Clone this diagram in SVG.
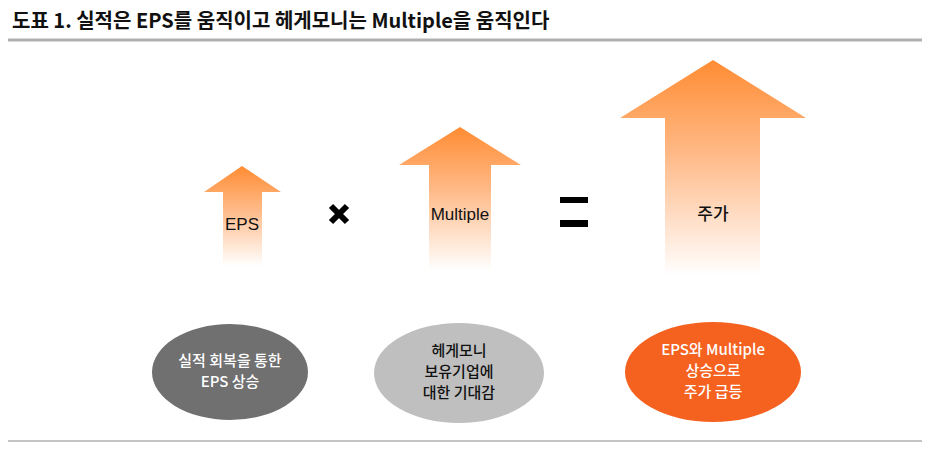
<svg xmlns="http://www.w3.org/2000/svg" width="933" height="449" viewBox="0 0 933 449">
<defs>
<linearGradient id="g" x1="0" y1="0" x2="0" y2="1">
<stop offset="0" stop-color="#ff8c33"/><stop offset="0.45" stop-color="#ffbb8a"/><stop offset="1" stop-color="#ffffff"/>
</linearGradient>
<style>
.t{font-family:"Noto Sans CJK KR","Liberation Sans",sans-serif;font-weight:bold;}
.lbl{font-family:"Liberation Sans","Noto Sans CJK KR",sans-serif;font-size:17px;font-weight:500;text-anchor:middle;fill:#111;}
.el{font-family:"Noto Sans CJK KR","Liberation Sans",sans-serif;font-size:15px;font-weight:500;text-anchor:middle;}
.arr{fill:url(#g);}
</style>
</defs>
<rect width="933" height="449" fill="#fff"/>
<text x="12" y="28" class="t" font-size="20" fill="#111">도표 1. 실적은 EPS를 움직이고 헤게모니는 Multiple을 움직인다</text>
<line x1="8" y1="40" x2="922" y2="40" stroke="#b0b0b0" stroke-width="3"/>
<line x1="8" y1="441" x2="922" y2="441" stroke="#b0b0b0" stroke-width="1.5"/>
<g id="arrow-eps"><polygon class="arr" points="242,166 281,192 262,192 262,266 223,266 223,192 204,192"/><text x="242" y="230" class="lbl">EPS</text></g>
<g id="times"><path d="M331,206 L347,222 M347,206 L331,222" stroke="#000" stroke-width="6"/></g>
<g id="arrow-multiple"><polygon class="arr" points="460,127 521,165 491,165 491,270 429,270 429,165 399,165"/><text x="460" y="220" class="lbl">Multiple</text></g>
<g id="equals"><rect x="560" y="197" width="28" height="6" fill="#000"/><rect x="560" y="220" width="28" height="7" fill="#000"/></g>
<g id="arrow-price"><polygon class="arr" points="713,60 806,118 760,118 760,276 665,276 665,118 620,118"/><text x="713" y="220" class="lbl">주가</text></g>
<g id="n1"><ellipse cx="230" cy="372" rx="78" ry="48" fill="#707070"/><text class="el" fill="#fff"><tspan x="230" y="366">실적 회복을 통한</tspan><tspan x="230" y="387">EPS 상승</tspan></text></g>
<g id="n2"><ellipse cx="459" cy="373" rx="85" ry="50" fill="#bfbfbf"/><text class="el" fill="#111"><tspan x="459" y="356">헤게모니</tspan><tspan x="459" y="377">보유기업에</tspan><tspan x="459" y="398">대한 기대감</tspan></text></g>
<g id="n3"><ellipse cx="713" cy="372" rx="88" ry="50" fill="#f5611f"/><text class="el" fill="#fff"><tspan x="713" y="355">EPS와 Multiple</tspan><tspan x="713" y="376">상승으로</tspan><tspan x="713" y="397">주가 급등</tspan></text></g>
</svg>
